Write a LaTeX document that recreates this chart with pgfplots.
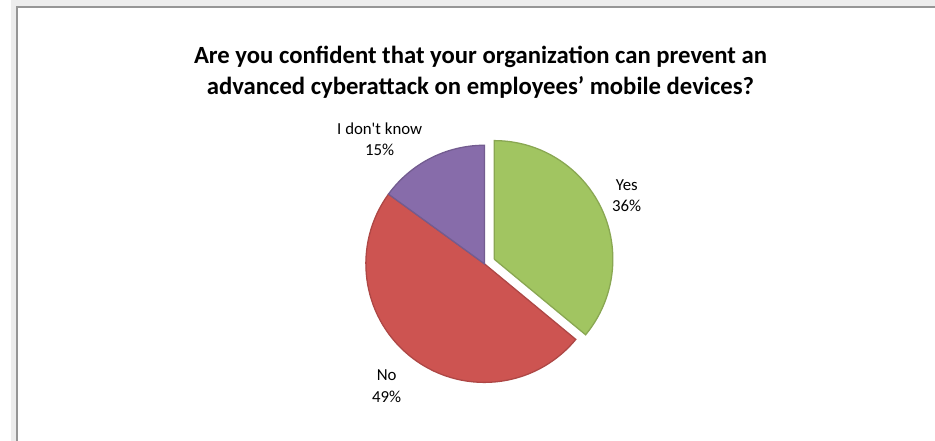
\documentclass[border=0pt]{standalone}
\usepackage{pgfplots}
\usepackage{pgfplotstable}
\pgfplotsset{compat=1.18}
\usepackage{fontspec}
\setmainfont{Carlito}

\definecolor{yesgreen}{RGB}{161,197,97}
\definecolor{nored}{RGB}{205,84,81}
\definecolor{idkpurple}{RGB}{135,108,170}
\definecolor{framegray}{RGB}{150,150,150}

% share of answers, in percent
\pgfplotstableread{
answer value
Yes 36
No 49
Idk 15
}\piedata

\begin{document}
\pgfplotstablegetelem{0}{value}\of\piedata \let\vyes\pgfplotsretval
\pgfplotstablegetelem{1}{value}\of\piedata \let\vno\pgfplotsretval
\pgfplotstablegetelem{2}{value}\of\piedata \let\vidk\pgfplotsretval
% slices start at 12 o'clock and run clockwise
\pgfmathsetmacro\aA{90}
\pgfmathsetmacro\aB{\aA-3.6*\vyes}
\pgfmathsetmacro\aC{\aB-3.6*\vno}
\pgfmathsetmacro\aD{\aC-3.6*\vidk}
\pgfmathsetmacro\amid{(\aA+\aB)/2}
\begin{tikzpicture}
\begin{axis}[
  hide axis,
  scale only axis,
  width=935bp, height=446bp,
  xmin=0, xmax=935,
  ymin=0, ymax=446,
  y dir=reverse,
]
% chart area
\fill[gray!14] (axis cs:0,0) rectangle (axis cs:935,446);
\fill[white] (axis cs:6,7) rectangle (axis cs:935,446);
\draw[framegray, line width=1.5bp] (axis cs:6,446) -- (axis cs:6,7) -- (axis cs:935,7);

% title
\node[align=center, font=\fontsize{25bp}{31bp}\selectfont\bfseries]
  at (axis cs:475,73) {Are you confident that your organization can prevent an\\
  advanced cyberattack on employees’ mobile devices?};

% slices
\begin{scope}[line width=1.3bp]
\filldraw[fill=nored, draw=nored!85!black]
  (axis cs:479,267) -- ++(\aB:120bp) arc[start angle=\aB, end angle=\aC, radius=120bp] -- cycle;
\filldraw[fill=idkpurple, draw=idkpurple!85!black]
  (axis cs:479,267) -- ++(\aC:120bp) arc[start angle=\aC, end angle=\aD, radius=120bp] -- cycle;
\filldraw[fill=yesgreen, draw=yesgreen!85!black]
  (axis cs:479,267) ++(\amid:11bp) coordinate (c) -- ++(\aA:120bp)
  arc[start angle=\aA, end angle=\aB, radius=120bp] -- (c);
\end{scope}

% data labels
\begin{scope}[every node/.style={align=center, font=\fontsize{17bp}{22bp}\selectfont}]
\node at (axis cs:373,141) {I don\textquotesingle t know\\\vidk\%};
\node at (axis cs:623,198) {Yes\\\vyes\%};
\node at (axis cs:380,391) {No\\\vno\%};
\end{scope}
\end{axis}
\pgfresetboundingbox
\path[use as bounding box] (current axis.south west) rectangle (current axis.north east);
\end{tikzpicture}
\end{document}
